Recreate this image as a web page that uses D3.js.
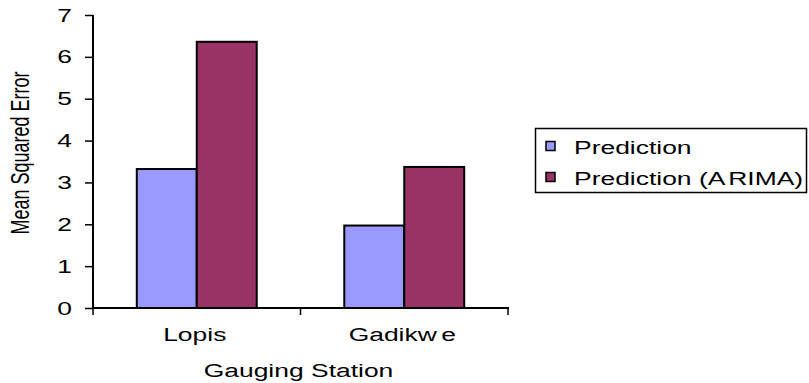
<!DOCTYPE html>
<html>
<head>
<meta charset="utf-8">
<script src="https://cdn.jsdelivr.net/npm/d3@7"></script>
<style>
  html, body { margin: 0; padding: 0; background: #fff; }
  svg { display: block; }
  text { font-family: "Liberation Sans", Arial, sans-serif; fill: #000; }
</style>
</head>
<body>
<svg id="chart" width="809" height="383"></svg>
<script>
// Gauging stations and mean squared error per prediction method
const stations = ["Lopis", "Gadikwe"];
const seriesNames = ["Prediction", "Prediction (ARIMA)"];
const predictionValues = [3.32, 1.97];
const arimaValues = [6.36, 3.37];
const yTicks = [0, 1, 2, 3, 4, 5, 6, 7];
const seriesColors = ["#9999FF", "#993366"];

const svg = d3.select("#chart");
const SX = 1.47;      // horizontal stretch of the lettering
const FS = 18;

const plot = { left: 93, right: 508, top: 15, bottom: 308 };

const x0 = d3.scaleBand().domain(stations).range([plot.left, plot.right]).paddingInner(0).paddingOuter(0);
const x1 = d3.scaleBand().domain(seriesNames).range([0, x0.bandwidth()]).paddingInner(0).paddingOuter(0.73);
const y = d3.scaleLinear().domain([0, 7]).range([plot.bottom, plot.top]);

const rows = stations.map((s, i) => ({ station: s, values: [predictionValues[i], arimaValues[i]] }));

// bars
const groups = svg.append("g").selectAll("g").data(rows).join("g")
  .attr("transform", d => `translate(${x0(d.station)},0)`);
groups.selectAll("rect").data(d => d.values.map((v, j) => ({ name: seriesNames[j], v, j })))
  .join("rect")
  .attr("x", d => x1(d.name))
  .attr("width", x1.bandwidth())
  .attr("y", d => y(d.v))
  .attr("height", d => y(0) - y(d.v))
  .attr("fill", d => seriesColors[d.j])
  .attr("stroke", "#000")
  .attr("stroke-width", 2);

// y axis
const yAxis = svg.append("g").attr("transform", `translate(${plot.left},0)`)
  .call(d3.axisLeft(y).tickValues(yTicks).tickSize(8).tickPadding(0).tickFormat(d3.format("d")));
yAxis.select(".domain").attr("stroke", "#000").attr("stroke-width", 2).attr("d", `M0,${plot.top}V${plot.bottom}`);
yAxis.selectAll(".tick line").attr("stroke", "#000").attr("stroke-width", 1.5);
yAxis.selectAll(".tick text")
  .attr("x", null).attr("dy", null)
  .attr("font-size", FS)
  .attr("text-anchor", "end")
  .attr("transform", `translate(-21,6) scale(${SX},1)`);

// x axis: line with ticks between categories
const xAxisG = svg.append("g");
xAxisG.append("line")
  .attr("x1", plot.left - 1).attr("x2", plot.right + 1)
  .attr("y1", plot.bottom).attr("y2", plot.bottom)
  .attr("stroke", "#000").attr("stroke-width", 2);
const dividers = [plot.left].concat(stations.map(s => x0(s) + x0.bandwidth()));
xAxisG.selectAll("line.div").data(dividers).join("line").attr("class", "div")
  .attr("x1", d => d).attr("x2", d => d)
  .attr("y1", plot.bottom).attr("y2", plot.bottom + 7)
  .attr("stroke", "#000").attr("stroke-width", 1.5);

// category labels, with the spacing of the original lettering
const catLabels = xAxisG.selectAll("text.cat").data(stations).join("text").attr("class", "cat")
  .attr("font-size", FS)
  .attr("text-anchor", "middle")
  .attr("transform", d => `translate(${x0(d) + x0.bandwidth() / 2 - 2},341) scale(${SX},1)`);
catLabels.each(function (d) {
  const t = d3.select(this);
  if (d === "Gadikwe") {
    t.append("tspan").text("Gadikw");
    t.append("tspan").attr("dx", 3).text("e");
  } else {
    t.text(d);
  }
});

// axis titles
svg.append("text")
  .attr("font-size", FS)
  .attr("text-anchor", "middle")
  .attr("transform", `translate(${(plot.left + plot.right) / 2 - 2},377) scale(${SX},1)`)
  .text("Gauging Station");

svg.append("text")
  .attr("font-size", FS)
  .attr("text-anchor", "middle")
  .attr("transform", `translate(29,153) scale(${SX},1) rotate(-90)`)
  .text("Mean Squared Error");

// legend
const legend = svg.append("g");
legend.append("rect")
  .attr("x", 535.5).attr("y", 128.5).attr("width", 271).attr("height", 64)
  .attr("fill", "#fff").attr("stroke", "#000").attr("stroke-width", 1.5);
const items = legend.selectAll("g.item").data(seriesNames).join("g").attr("class", "item")
  .attr("transform", (d, i) => `translate(0,${i * 31})`);
items.append("rect")
  .attr("x", 546).attr("y", 141.5).attr("width", 9).attr("height", 9)
  .attr("fill", (d, i) => seriesColors[i]).attr("stroke", "#000").attr("stroke-width", 1.5);
const itemText = items.append("text")
  .attr("font-size", FS)
  .attr("transform", `translate(574,154) scale(${SX},1)`);
itemText.each(function (d) {
  const t = d3.select(this);
  if (d === "Prediction (ARIMA)") {
    t.append("tspan").text("Prediction (A");
    t.append("tspan").attr("dx", 2).text("RIMA)");
  } else {
    t.text(d);
  }
});
</script>
</body>
</html>
